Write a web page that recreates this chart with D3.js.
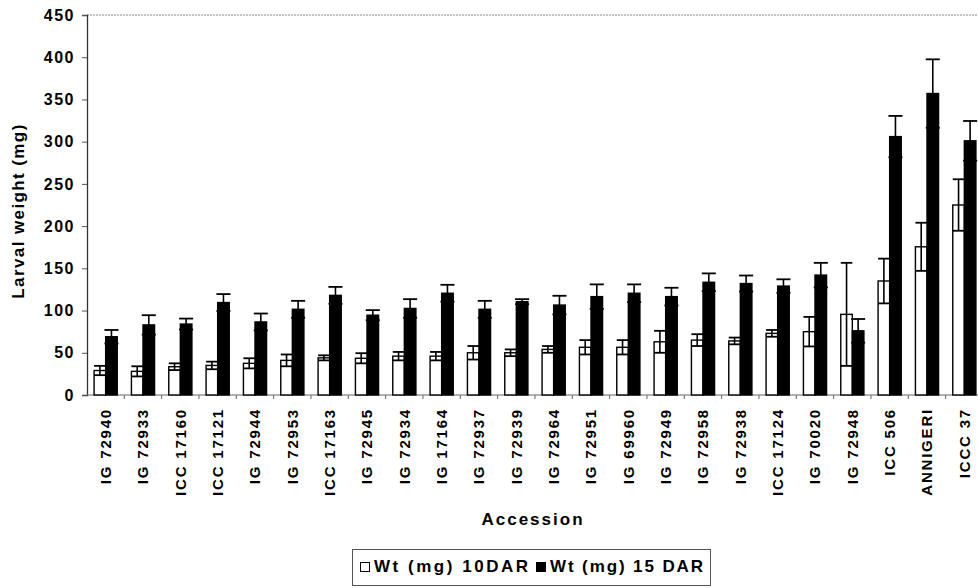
<!DOCTYPE html>
<html>
<head>
<meta charset="utf-8">
<script src="https://cdn.jsdelivr.net/npm/d3@7"></script>
<style>
  html, body { margin: 0; padding: 0; background: #fff; }
  svg { display: block; }
  text { font-family: Arial, "Liberation Sans", sans-serif; font-weight: bold; fill: #000; }
</style>
</head>
<body>
<svg id="chart" width="978" height="588"></svg>
<script>
// ---- data ----
const categories = ["IG 72940", "IG 72933", "ICC 17160", "ICC 17121", "IG 72944", "IG 72953",
  "ICC 17163", "IG 72945", "IG 72934", "IG 17164", "IG 72937", "IG 72939", "IG 72964",
  "IG 72951", "IG 69960", "IG 72949", "IG 72958", "IG 72938", "ICC 17124", "IG 70020",
  "IG 72948", "ICC 506", "ANNIGERI", "ICCC 37"];
const wt10 = [29, 28, 33.5, 35, 37.5, 41, 44, 43.5, 46, 46, 50, 50, 54, 56.5, 56.5, 63, 65, 64, 73, 75, 95.5, 135, 175.5, 225];
const wt10Err = [5.5, 6, 4, 4.5, 6, 7, 3, 6, 5, 5, 8, 4, 4, 8.5, 8.5, 13, 7, 4, 4, 17.5, 61, 26.5, 28.5, 30.5];
const wt15 = [69, 83, 84, 109.5, 86.5, 101.5, 118, 94.5, 102.5, 120.5, 101.5, 110.5, 106.5, 116.5, 120.5, 116.5, 133.5, 132, 129, 142, 76, 306, 357, 301];
const wt15Err = [8, 11.5, 6.5, 10, 10, 10, 10, 6, 11, 10, 10, 3, 11, 14.5, 10.5, 10.5, 10.5, 9.5, 8, 14.5, 14, 24.5, 40.5, 23.5];
const yTicks = [0, 50, 100, 150, 200, 250, 300, 350, 400, 450];
const seriesNames = ["Wt (mg) 10DAR", "Wt (mg) 15 DAR"];
const seriesFill = ["#ffffff", "#000000"];

// ---- layout ----
const svg = d3.select("#chart");
const mLeft = 87, mRight = 983, mTop = 15, mBottom = 395;

const x = d3.scaleBand().domain(categories).range([mLeft, mRight]).padding(0);
const y = d3.scaleLinear().domain([0, 450]).range([mBottom, mTop]);
const bw = x.bandwidth();
const barW = bw * 0.31;

// top border line
svg.append("line").attr("x1", mLeft).attr("x2", 978).attr("y1", mTop).attr("y2", mTop)
  .attr("stroke", "#8a8a8a").attr("stroke-width", 1).attr("stroke-dasharray", "2,1");

// y axis
const yAxis = d3.axisLeft(y).tickValues(yTicks).tickSize(5).tickFormat(d3.format("d"));
const gy = svg.append("g").attr("transform", `translate(${mLeft},0)`).call(yAxis);
gy.select(".domain").attr("stroke", "#333").attr("stroke-width", 1.3);
gy.selectAll(".tick line").attr("stroke", "#555");
gy.selectAll(".tick text")
  .attr("x", -12)
  .style("font-size", "16px")
  .style("font-family", "Arial, 'Liberation Sans', sans-serif")
  .style("font-weight", "bold")
  .style("letter-spacing", "1.5px")
  .attr("fill", "#000");

// x axis: baseline + ticks at band boundaries
const gx = svg.append("g");
gx.append("line").attr("x1", mLeft).attr("x2", 978).attr("y1", mBottom).attr("y2", mBottom)
  .attr("stroke", "#666").attr("stroke-width", 1.2);
gx.selectAll("line.xt").data(categories.slice(1)).enter().append("line")
  .attr("class", "xt")
  .attr("x1", d => x(d)).attr("x2", d => x(d))
  .attr("y1", mBottom).attr("y2", mBottom + 4)
  .attr("stroke", "#666").attr("stroke-width", 1);

// x labels
gx.selectAll("text.xl").data(categories).enter().append("text")
  .attr("class", "xl")
  .attr("transform", d => `translate(${x(d) + bw / 2},408) rotate(-90)`)
  .attr("dy", "0.36em")
  .attr("text-anchor", "end")
  .style("font-size", "15px")
  .style("letter-spacing", "1.8px")
  .text(d => d);

// bars
const groups = svg.append("g").selectAll("g.cat").data(categories).enter().append("g").attr("class", "cat");

function drawSeries(vals, errs, idx) {
  const offset = idx === 0 ? -barW : 0;
  const capW = idx === 0 ? barW : barW + 2.5;
  groups.append("rect")
    .attr("x", (d, i) => x(d) + bw / 2 + offset)
    .attr("y", (d, i) => y(vals[i]))
    .attr("width", barW)
    .attr("height", (d, i) => y(0) - y(vals[i]))
    .attr("fill", seriesFill[idx])
    .attr("stroke", "#000")
    .attr("stroke-width", 1.4);
  const cx = (d) => x(d) + bw / 2 + offset + barW / 2;
  groups.append("line")
    .attr("x1", d => cx(d)).attr("x2", d => cx(d))
    .attr("y1", (d, i) => y(vals[i] + errs[i]))
    .attr("y2", (d, i) => y(vals[i] - errs[i]))
    .attr("stroke", "#000").attr("stroke-width", 1.6);
  [1, -1].forEach(s => {
    groups.append("line")
      .attr("x1", d => cx(d) - capW / 2).attr("x2", d => cx(d) + capW / 2)
      .attr("y1", (d, i) => y(vals[i] + s * errs[i]))
      .attr("y2", (d, i) => y(vals[i] + s * errs[i]))
      .attr("stroke", "#000").attr("stroke-width", 1.8);
  });
}
drawSeries(wt10, wt10Err, 0);
drawSeries(wt15, wt15Err, 1);

// axis titles
svg.append("text")
  .attr("transform", `translate(18,211) rotate(-90)`)
  .attr("text-anchor", "middle")
  .attr("dy", "0.35em")
  .style("font-size", "17px")
  .style("letter-spacing", "1.4px")
  .text("Larval weight (mg)");

svg.append("text")
  .attr("x", 533).attr("y", 525)
  .attr("text-anchor", "middle")
  .style("font-size", "17px")
  .style("letter-spacing", "2px")
  .text("Accession");

// legend
const lg = svg.append("g");
lg.append("rect").attr("x", 352.5).attr("y", 549.5).attr("width", 358).attr("height", 36)
  .attr("fill", "#fff").attr("stroke", "#555").attr("stroke-width", 1);
const legendX = [360, 536];
const legendLen = [154, 153];
seriesNames.forEach((name, i) => {
  lg.append("rect").attr("x", legendX[i] + 0.5).attr("y", 562.5).attr("width", 9).attr("height", 9)
    .attr("fill", seriesFill[i]).attr("stroke", "#000").attr("stroke-width", 1);
  lg.append("text").attr("x", legendX[i] + 14).attr("y", 572)
    .attr("textLength", legendLen[i])
    .attr("lengthAdjust", "spacing")
    .style("font-size", "17px")
    .text(name);
});
</script>
</body>
</html>
